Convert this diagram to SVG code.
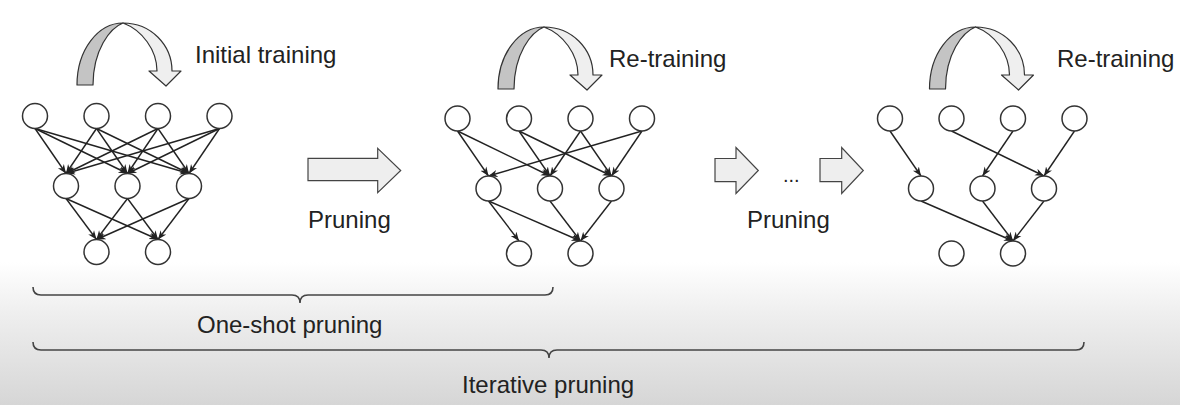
<svg xmlns="http://www.w3.org/2000/svg" xmlns:xlink="http://www.w3.org/1999/xlink" width="1180" height="405" viewBox="0 0 1180 405">
<defs>
<linearGradient id="bg" gradientUnits="userSpaceOnUse" x1="0" y1="262" x2="0" y2="405">
<stop offset="0" stop-color="#ffffff"/>
<stop offset="0.35" stop-color="#efefef"/>
<stop offset="1" stop-color="#d6d6d6"/>
</linearGradient>
<marker id="ah" viewBox="0 0 10 10" refX="10" refY="5" markerWidth="9" markerHeight="9" markerUnits="userSpaceOnUse" orient="auto">
<path d="M0,1 L10,5 L0,9 L3,5 Z" fill="#222"/>
</marker>
<g id="curve">
<path class="dark" d="M77,85 C77,50 98,23 123,23 C110,28 93,50 93,85 Z"/>
<path class="light" d="M123,23 C151,23 172,45 172,71 L181,71 L166,86 L149,71 L157,71 C157,50 142,30 123,23 Z"/>
</g>
</defs>
<style>
.nd{fill:#fff;stroke:#333;stroke-width:1.5}
.ed line{stroke:#222;stroke-width:1.4;marker-end:url(#ah)}
.dark{fill:#c4c4c4;stroke:#333;stroke-width:1.2;stroke-linejoin:round}
.light{fill:#efefef;stroke:#333;stroke-width:1.2;stroke-linejoin:round}
.blk{fill:#eeeeee;stroke:#444;stroke-width:1.2}
.br{fill:none;stroke:#444;stroke-width:1.6}
.t{font-family:"Liberation Sans",Arial,sans-serif;font-size:24px;fill:#222}
</style>
<rect x="0" y="0" width="1180" height="405" fill="url(#bg)"/>

<!-- curved training arrows -->
<g id="train1"><use xlink:href="#curve"/><text class="t" x="195" y="63">Initial training</text></g>
<g id="train2"><use xlink:href="#curve" transform="translate(421,4)"/><text class="t" x="609" y="67">Re-training</text></g>
<g id="train3"><use xlink:href="#curve" transform="translate(852.5,4)"/><text class="t" x="1057" y="67">Re-training</text></g>

<!-- block arrows -->
<g id="prune1">
<path class="blk" d="M308,158.3 L377.7,158.3 L377.7,148.3 L400.7,170.5 L377.7,192.7 L377.7,180.7 L308,180.7 Z"/>
<text class="t" x="308" y="228">Pruning</text>
</g>
<g id="prune2">
<path class="blk" d="M715,158.5 L736,158.5 L736,147.5 L758.3,170.5 L736,193.5 L736,181.7 L715,181.7 Z"/>
<text class="t" x="783" y="182" style="font-size:20px">...</text>
<path class="blk" d="M820,158.5 L841.7,158.5 L841.7,147.5 L863.3,170.5 L841.7,193.5 L841.7,181.7 L820,181.7 Z"/>
<text class="t" x="747" y="228">Pruning</text>
</g>

<!-- connectors -->
<g id="connectors" class="ed">
<!-- network 1 -->
<line x1="35" y1="128.5" x2="66" y2="173.5"/>
<line x1="35" y1="128.5" x2="127.5" y2="173.5"/>
<line x1="35" y1="128.5" x2="189" y2="173.5"/>
<line x1="96.5" y1="128.5" x2="66" y2="173.5"/>
<line x1="96.5" y1="128.5" x2="127.5" y2="173.5"/>
<line x1="96.5" y1="128.5" x2="189" y2="173.5"/>
<line x1="158" y1="128.5" x2="66" y2="173.5"/>
<line x1="158" y1="128.5" x2="127.5" y2="173.5"/>
<line x1="158" y1="128.5" x2="189" y2="173.5"/>
<line x1="219.5" y1="128.5" x2="66" y2="173.5"/>
<line x1="219.5" y1="128.5" x2="127.5" y2="173.5"/>
<line x1="219.5" y1="128.5" x2="189" y2="173.5"/>
<line x1="66" y1="198.5" x2="96.5" y2="239.5"/>
<line x1="66" y1="198.5" x2="158" y2="239.5"/>
<line x1="127.5" y1="198.5" x2="96.5" y2="239.5"/>
<line x1="127.5" y1="198.5" x2="158" y2="239.5"/>
<line x1="189" y1="198.5" x2="96.5" y2="239.5"/>
<line x1="189" y1="198.5" x2="158" y2="239.5"/>
<!-- network 2 -->
<line x1="457.5" y1="131" x2="488.5" y2="176"/>
<line x1="457.5" y1="131" x2="550" y2="176"/>
<line x1="519" y1="131" x2="550" y2="176"/>
<line x1="519" y1="131" x2="611.5" y2="176"/>
<line x1="580.5" y1="131" x2="550" y2="176"/>
<line x1="580.5" y1="131" x2="611.5" y2="176"/>
<line x1="642" y1="131" x2="488.5" y2="176"/>
<line x1="642" y1="131" x2="611.5" y2="176"/>
<line x1="488.5" y1="201" x2="519" y2="241"/>
<line x1="488.5" y1="201" x2="580.5" y2="241"/>
<line x1="550" y1="201" x2="580.5" y2="241"/>
<line x1="611.5" y1="201" x2="580.5" y2="241"/>
<!-- network 3 -->
<line x1="890" y1="131" x2="921" y2="176"/>
<line x1="951.5" y1="131" x2="1044" y2="176"/>
<line x1="1013" y1="131" x2="982.5" y2="176"/>
<line x1="1074.5" y1="131" x2="1044" y2="176"/>
<line x1="921" y1="201" x2="1013" y2="241"/>
<line x1="982.5" y1="201" x2="1013" y2="241"/>
<line x1="1044" y1="201" x2="1013" y2="241"/>
</g>

<!-- network 1 nodes -->
<g id="n1-t1"><circle class="nd" cx="35" cy="116" r="12.5"/></g>
<g id="n1-t2"><circle class="nd" cx="96.5" cy="116" r="12.5"/></g>
<g id="n1-t3"><circle class="nd" cx="158" cy="116" r="12.5"/></g>
<g id="n1-t4"><circle class="nd" cx="219.5" cy="116" r="12.5"/></g>
<g id="n1-m1"><circle class="nd" cx="66" cy="186" r="12.5"/></g>
<g id="n1-m2"><circle class="nd" cx="127.5" cy="186" r="12.5"/></g>
<g id="n1-m3"><circle class="nd" cx="189" cy="186" r="12.5"/></g>
<g id="n1-b1"><circle class="nd" cx="96.5" cy="252" r="12.5"/></g>
<g id="n1-b2"><circle class="nd" cx="158" cy="252" r="12.5"/></g>
<!-- network 2 nodes -->
<g id="n2-t1"><circle class="nd" cx="457.5" cy="118.5" r="12.5"/></g>
<g id="n2-t2"><circle class="nd" cx="519" cy="118.5" r="12.5"/></g>
<g id="n2-t3"><circle class="nd" cx="580.5" cy="118.5" r="12.5"/></g>
<g id="n2-t4"><circle class="nd" cx="642" cy="118.5" r="12.5"/></g>
<g id="n2-m1"><circle class="nd" cx="488.5" cy="188.5" r="12.5"/></g>
<g id="n2-m2"><circle class="nd" cx="550" cy="188.5" r="12.5"/></g>
<g id="n2-m3"><circle class="nd" cx="611.5" cy="188.5" r="12.5"/></g>
<g id="n2-b1"><circle class="nd" cx="519" cy="253.5" r="12.5"/></g>
<g id="n2-b2"><circle class="nd" cx="580.5" cy="253.5" r="12.5"/></g>
<!-- network 3 nodes -->
<g id="n3-t1"><circle class="nd" cx="890" cy="118.5" r="12.5"/></g>
<g id="n3-t2"><circle class="nd" cx="951.5" cy="118.5" r="12.5"/></g>
<g id="n3-t3"><circle class="nd" cx="1013" cy="118.5" r="12.5"/></g>
<g id="n3-t4"><circle class="nd" cx="1074.5" cy="118.5" r="12.5"/></g>
<g id="n3-m1"><circle class="nd" cx="921" cy="188.5" r="12.5"/></g>
<g id="n3-m2"><circle class="nd" cx="982.5" cy="188.5" r="12.5"/></g>
<g id="n3-m3"><circle class="nd" cx="1044" cy="188.5" r="12.5"/></g>
<g id="n3-b1"><circle class="nd" cx="951.5" cy="253.5" r="12.5"/></g>
<g id="n3-b2"><circle class="nd" cx="1013" cy="253.5" r="12.5"/></g>

<!-- braces -->
<g id="oneshot">
<path class="br" d="M33,287 Q33,295 41,295 L292,295 Q300,295 300,303 Q300,295 308,295 L545,295 Q553,295 553,287"/>
<text class="t" x="197" y="333">One-shot pruning</text>
</g>
<g id="iterative">
<path class="br" d="M33,342 Q33,350 41,350 L541,350 Q549,350 549,358 Q549,350 557,350 L1076,350 Q1084,350 1084,342"/>
<text class="t" x="462" y="393">Iterative pruning</text>
</g>
</svg>
